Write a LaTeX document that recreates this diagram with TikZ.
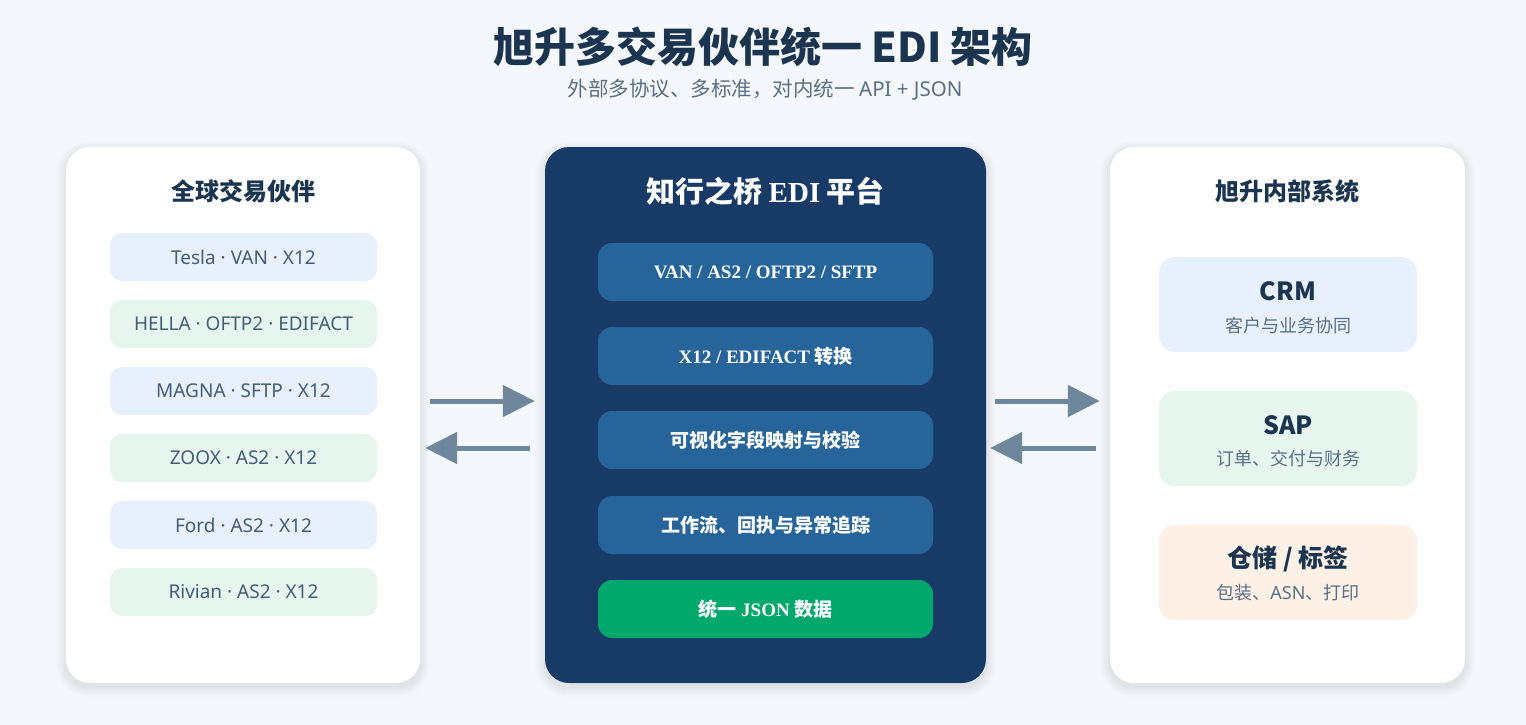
\documentclass[tikz,border=0pt]{standalone}
\usepackage{fontspec}
\setmainfont{Noto Sans CJK SC}
\newfontfamily\tnr{Liberation Serif}
\newfontfamily\lat{Noto Sans}
\usetikzlibrary{positioning,arrows.meta,backgrounds}

\definecolor{pagebg}{HTML}{F4F7FB}
\definecolor{ink}{HTML}{1B3551}
\definecolor{muted}{HTML}{5B6F84}
\definecolor{itemtxt}{HTML}{465D77}
\definecolor{navy}{HTML}{173A66}
\definecolor{steel}{HTML}{27649A}
\definecolor{jade}{HTML}{00A86B}
\definecolor{tintblue}{HTML}{E8F0FE}
\definecolor{tintgreen}{HTML}{E6F6EF}
\definecolor{tintpeach}{HTML}{FDF0E6}
\definecolor{arrowgray}{HTML}{6F879D}

\newcommand{\fs}[1]{\fontsize{#1}{#1}\selectfont}
% soft shadow under a panel node
\newcommand{\panelshadow}[1]{%
  \foreach \i in {1,...,10}
    \fill[black, opacity=0.009, rounded corners={24pt+\i pt}]
      ([xshift=-\i pt,yshift={\i pt-4pt}]#1.north west) rectangle ([xshift=\i pt,yshift={-\i pt-4pt}]#1.south east);}

\begin{document}
\begin{tikzpicture}[x=1pt,y=-1pt,
    panel/.style={rounded corners=24pt, minimum height=536pt, inner sep=0pt},
    heading/.style={text=ink, font=\bfseries\fs{24}},
    partner/.style={rounded corners=12pt, minimum width=267pt, minimum height=48pt, inner sep=0pt,
      text=itemtxt, font=\lat\fs{19}},
    stage/.style={fill=steel, rounded corners=14pt, minimum width=335pt, minimum height=58pt, inner sep=0pt,
      text=white, font=\bfseries\fs{19}},
    system/.style={rounded corners=16pt, minimum width=258pt, minimum height=95pt, inner sep=0pt},
    systitle/.style={text=ink, font=\bfseries\fs{25}},
    sysnote/.style={text=muted, font=\fs{18}},
    flow/.style={draw=arrowgray, line width=5pt, -{Triangle[length=32pt,width=31pt]}}]
  \useasboundingbox (0,0) rectangle (1526,725);

  \node (title) at (763,47) [text=ink, font=\bfseries\fs{41}] {旭升多交易伙伴统一 EDI 架构};
  \node (subtitle) at (765,90) [text=muted, font=\fs{20.5}] {外部多协议、多标准，对内统一 {\lat API + JSON}};

  % three columns
  \node (lp) at (243,415) [panel, fill=white, minimum width=354pt] {};
  \node (cp) at (765.5,415) [panel, fill=navy, minimum width=441pt] {};
  \node (rp) at (1287.5,415) [panel, fill=white, minimum width=355pt] {};

  \begin{pgfonlayer}{background}
    \fill[pagebg] (0,0) rectangle (1526,725);
    \panelshadow{lp}
    \panelshadow{cp}
    \panelshadow{rp}
  \end{pgfonlayer}

  % partners
  \node (lt) at (243,191) [heading] {全球交易伙伴};
  \node (p1) at (243.5,257) [partner, fill=tintblue] {Tesla · VAN · X12};
  \node (p2) at (243.5,324) [partner, fill=tintgreen] {HELLA · OFTP2 · EDIFACT};
  \node (p3) at (243.5,391) [partner, fill=tintblue] {MAGNA · SFTP · X12};
  \node (p4) at (243.5,458) [partner, fill=tintgreen] {ZOOX · AS2 · X12};
  \node (p5) at (243.5,525) [partner, fill=tintblue] {Ford · AS2 · X12};
  \node (p6) at (243.5,592) [partner, fill=tintgreen] {Rivian · AS2 · X12};

  % platform
  \node (ct) at (765.5,191) [text=white, font=\bfseries\fs{29}] {知行之桥 {\tnr EDI} 平台};
  \node (s1) at (765.5,272) [stage] {\tnr VAN / AS2 / OFTP2 / SFTP};
  \node (s2) at (765.5,356) [stage] {{\tnr X12 / EDIFACT} 转换};
  \node (s3) at (765.5,440) [stage] {可视化字段映射与校验};
  \node (s4) at (765.5,525) [stage] {工作流、回执与异常追踪};
  \node (s5) at (765.5,609) [stage, fill=jade] {统一 {\tnr JSON} 数据};

  % internal systems
  \node (rt) at (1287.5,191) [heading] {旭升内部系统};
  \node (crm) at (1288,304.5) [system, fill=tintblue] {};
  \node (crmt) at (1288,291) [systitle] {CRM};
  \node (crmn) at (1288,326) [sysnote] {客户与业务协同};
  \node (sap) at (1288,438.5) [system, fill=tintgreen] {};
  \node (sapt) at (1288,425) [systitle] {SAP};
  \node (sapn) at (1288,459) [sysnote] {订单、交付与财务};
  \node (wms) at (1288,572.5) [system, fill=tintpeach] {};
  \node (wmst) at (1288,559) [systitle] {仓储 / 标签};
  \node (wmsn) at (1288,593) [sysnote] {包装、{\lat ASN}、打印};

  % data flow both ways
  \draw[flow] ([xshift=10pt,yshift=14pt]lp.east) -- ([xshift=-10pt,yshift=14pt]cp.west);
  \draw[flow] ([xshift=-15pt,yshift=-33pt]cp.west) -- ([xshift=5pt,yshift=-33pt]lp.east);
  \draw[flow] ([xshift=9pt,yshift=14pt]cp.east) -- ([xshift=-10pt,yshift=14pt]rp.west);
  \draw[flow] ([xshift=-14pt,yshift=-33pt]rp.west) -- ([xshift=4pt,yshift=-33pt]cp.east);
\end{tikzpicture}
\end{document}
